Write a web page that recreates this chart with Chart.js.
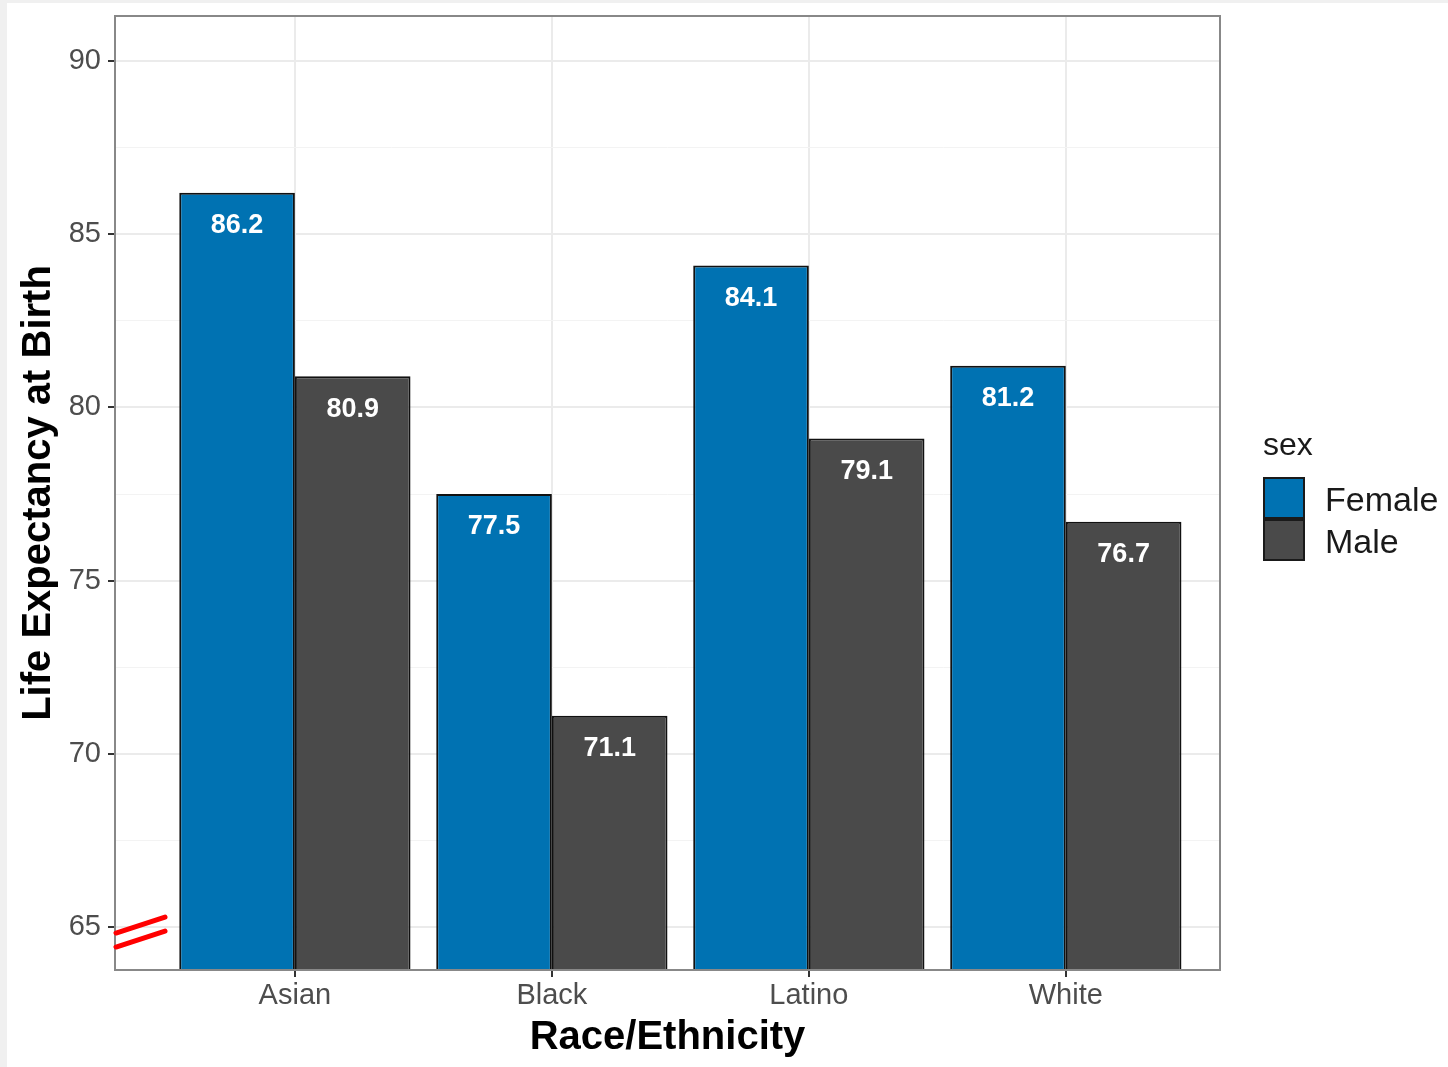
<!DOCTYPE html>
<html>
<head>
<meta charset="utf-8">
<script src="https://cdn.jsdelivr.net/npm/chart.js@4/dist/chart.umd.min.js"></script>
<style>
  html, body { margin: 0; padding: 0; background: #f0f0f0; }
  #wrap { position: absolute; left: 7px; top: 3px; width: 1441px; height: 1064px; background: #fff; }
  canvas { display: block; }
</style>
</head>
<body>
<div id="wrap"><canvas id="lifeChart" width="1441" height="1064"></canvas></div>
<script>
const categories = ["Asian", "Black", "Latino", "White"];
const femaleValues = [86.2, 77.5, 84.1, 81.2];
const maleValues = [80.9, 71.1, 79.1, 76.7];
const seriesNames = ["Female", "Male"];
const seriesColors = ["#0072B2", "#4A4A4A"];
const yTicks = [65, 70, 75, 80, 85, 90];

const FONT = "'Liberation Sans', Arial, sans-serif";

const isCat = (c) => c.tick && Number.isInteger(c.tick.value);
const isMajorY = (c) => c.tick && yTicks.includes(c.tick.value);

// ggplot-ish panel border, value labels, legend and the red axis-break marks
const decorations = {
  id: "decorations",
  afterDatasetsDraw(chart) {
    const { ctx, chartArea: a } = chart;
    ctx.save();
    ctx.strokeStyle = "#888";
    ctx.lineWidth = 2;
    ctx.strokeRect(a.left, a.top, a.right - a.left, a.bottom - a.top);

    ctx.fillStyle = "#fff";
    ctx.font = `bold 27px ${FONT}`;
    ctx.textAlign = "center";
    ctx.textBaseline = "middle";
    chart.data.datasets.forEach((ds, i) => {
      chart.getDatasetMeta(i).data.forEach((bar, j) => {
        ctx.fillText(ds.data[j].y.toFixed(1), bar.x, bar.y + 33);
      });
    });
    ctx.restore();
  },
  afterDraw(chart) {
    const { ctx, chartArea: a } = chart;
    const y65 = chart.scales.y.getPixelForValue(65);
    ctx.save();
    // red break marks on the y axis
    ctx.strokeStyle = "#ff0000";
    ctx.lineWidth = 5;
    ctx.lineCap = "round";
    [[6, -10], [20, 4]].forEach(([d0, d1]) => {
      ctx.beginPath();
      ctx.moveTo(a.left + 1, y65 + d0);
      ctx.lineTo(a.left + 50, y65 + d1);
      ctx.stroke();
    });

    // legend
    const lx = a.right + 43;
    ctx.fillStyle = "#1a1a1a";
    ctx.font = `32px ${FONT}`;
    ctx.textAlign = "left";
    ctx.textBaseline = "alphabetic";
    ctx.fillText("sex", lx, 452);
    seriesNames.forEach((name, i) => {
      const top = 474 + i * 42;
      ctx.fillStyle = seriesColors[i];
      ctx.fillRect(lx, top, 42, 42);
      ctx.strokeStyle = "#1a1a1a";
      ctx.lineWidth = 2;
      ctx.strokeRect(lx + 1, top + 1, 40, 40);
      ctx.fillStyle = "#1a1a1a";
      ctx.font = `34px ${FONT}`;
      ctx.fillText(name, lx + 62, top + 34);
    });
    ctx.restore();
  }
};

const chart = new Chart(document.getElementById("lifeChart"), {
  type: "bar",
  data: {
    datasets: [
      {
        label: seriesNames[0],
        data: categories.map((c, i) => ({ x: i, y: femaleValues[i] })),
        backgroundColor: seriesColors[0],
      },
      {
        label: seriesNames[1],
        data: categories.map((c, i) => ({ x: i, y: maleValues[i] })),
        backgroundColor: seriesColors[1],
      },
    ],
  },
  options: {
    responsive: false,
    animation: false,
    layout: { padding: { left: 0, top: 13, right: 228, bottom: 0 } },
    datasets: {
      bar: {
        borderColor: "#111",
        borderWidth: 2,
        borderSkipped: false,
        barPercentage: 1,
        categoryPercentage: 0.9,
      },
    },
    plugins: { legend: { display: false }, tooltip: { enabled: false } },
    scales: {
      x: {
        type: "linear",
        min: -0.7,
        max: 3.6,
        offset: false,
        afterFit: (s) => {
          s.height = 97;
          s.paddingLeft = 0;
          s.paddingRight = 0;
        },
        border: { display: false },
        grid: {
          offset: false,
          color: (c) => (isCat(c) ? "#ebebeb" : "transparent"),
          tickColor: (c) => (isCat(c) ? "#333" : "transparent"),
          lineWidth: 2,
          tickLength: 7,
        },
        ticks: {
          stepSize: 1,
          includeBounds: false,
          autoSkip: false,
          maxRotation: 0,
          padding: 2,
          color: "#4d4d4d",
          font: { family: FONT, size: 29 },
          callback: (v) => categories[v] ?? "",
        },
        title: {
          display: true,
          text: "Race/Ethnicity",
          color: "#000",
          font: { family: FONT, size: 40, weight: "bold" },
          padding: { top: 0, bottom: 5 },
        },
      },
      y: {
        min: 63.76,
        max: 91.3,
        afterFit: (s) => {
          s.width = 108;
          s.paddingTop = 0;
          s.paddingBottom = 0;
        },
        border: { display: false },
        grid: {
          color: (c) => (isMajorY(c) ? "#ebebeb" : "#f3f3f3"),
          lineWidth: (c) => (isMajorY(c) ? 2 : 1),
          tickColor: (c) => (isMajorY(c) ? "#333" : "transparent"),
          tickLength: 7,
        },
        ticks: {
          stepSize: 2.5,
          includeBounds: false,
          autoSkip: false,
          padding: 7,
          color: "#4d4d4d",
          font: { family: FONT, size: 29 },
          callback: (v) => (yTicks.includes(v) ? v : ""),
        },
        title: {
          display: true,
          text: "Life Expectancy at Birth",
          color: "#000",
          font: { family: FONT, size: 40, weight: "bold" },
          padding: { top: 8, bottom: 0 },
        },
      },
    },
  },
  plugins: [decorations],
});
</script>
</body>
</html>
